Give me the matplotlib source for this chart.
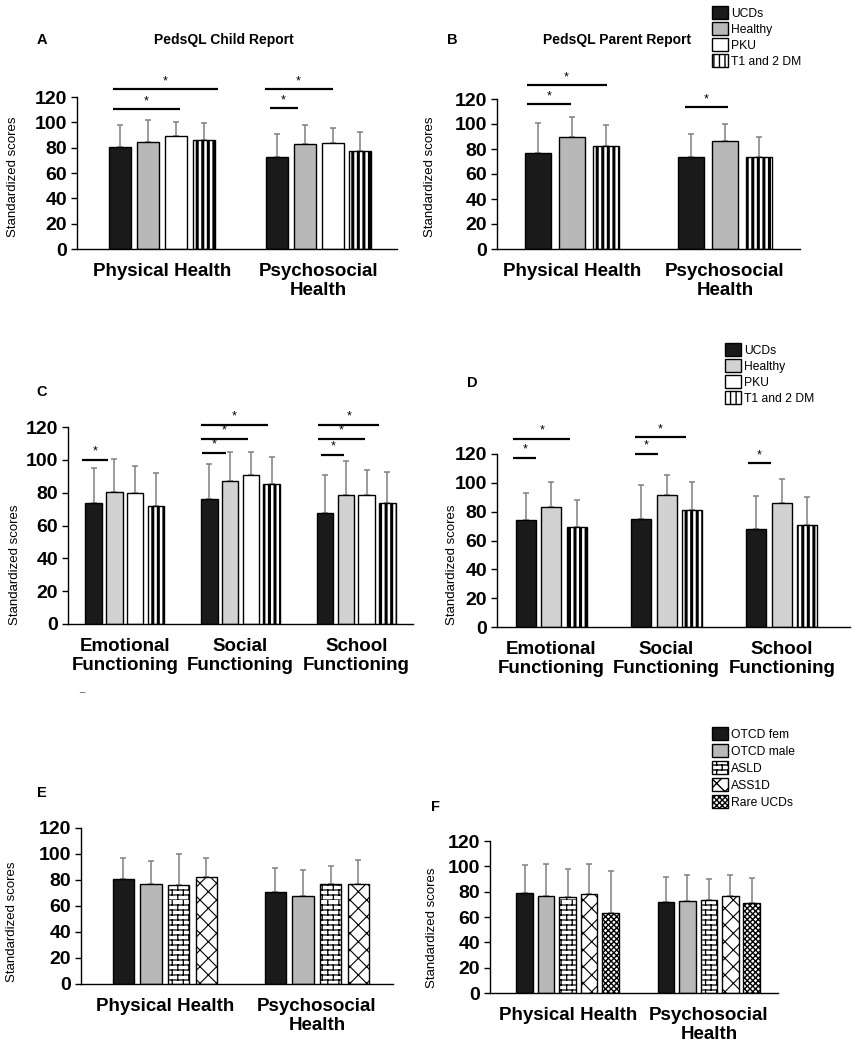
import warnings
import numpy as np
import matplotlib
matplotlib.use('Agg')
import matplotlib.pyplot as plt
import matplotlib.hatch as mhatch
from matplotlib.path import Path

warnings.filterwarnings('ignore')

plt.rcParams['font.family'] = ['Liberation Sans', 'DejaVu Sans']

# ---------------- data ----------------
groups_health = ['Physical Health', 'Psychosocial\nHealth']
groups_func = ['Emotional\nFunctioning', 'Social\nFunctioning', 'School\nFunctioning']

# A: child report (UCDs, Healthy, PKU, T1 and 2 DM)
child_mean = [[80.3, 84.7, 89.2, 86.0], [72.4, 82.6, 83.7, 77.6]]
child_sd = [[17.9, 17.4, 10.8, 13.5], [18.1, 15.6, 11.8, 14.5]]

# B: parent report (UCDs, Healthy, T1 and 2 DM)
parent_mean = [[76.6, 89.6, 82.5], [73.4, 86.8, 74.0]]
parent_sd = [[24.6, 16.2, 17.1], [18.5, 13.4, 15.5]]

# C: child report functioning
childf_mean = [[74.0, 80.6, 79.6, 72.1], [76.4, 86.9, 91.0, 85.5], [67.5, 78.4, 78.4, 74.0]]
childf_sd = [[21.1, 19.8, 16.9, 19.8], [21.1, 17.9, 13.5, 16.3], [23.2, 21.0, 15.5, 18.3]]

# D: parent report functioning
parentf_mean = [[74.3, 82.9, 69.2], [74.7, 91.7, 81.2], [67.8, 85.7, 71.0]]
parentf_sd = [[18.6, 17.4, 18.8], [23.5, 13.9, 19.1], [23.4, 17.3, 19.5]]

# E: child report by diagnosis (OTCD fem, OTCD male, ASLD, ASS1D)
diag_child_mean = [[80.8, 76.9, 76.4, 82.6], [70.8, 67.7, 76.9, 77.2]]
diag_child_sd = [[16.4, 17.5, 23.9, 14.3], [18.4, 19.7, 13.9, 18.4]]

# F: parent report by diagnosis (OTCD fem, OTCD male, ASLD, ASS1D, Rare UCDs)
diag_parent_mean = [[78.8, 76.9, 75.9, 78.5, 63.3], [71.7, 73.0, 73.5, 76.2, 70.9]]
diag_parent_sd = [[22.3, 25.3, 22.3, 23.7, 33.3], [20.2, 20.2, 16.3, 17.0, 20.0]]

labels_cohort = ['UCDs', 'Healthy', 'PKU', 'T1 and 2 DM']
labels_diag = ['OTCD fem', 'OTCD male', 'ASLD', 'ASS1D', 'Rare UCDs']

# significance lines: (group, from bar, to bar, height)
sig_a = [(0, -0.25, 3.5, 126.3), (0, -0.25, 2.14, 110.5), (1, -0.43, 2.0, 126), (1, -0.25, 0.75, 111)]
sig_b = [(0, -0.35, 2.03, 131), (0, -0.35, 0.97, 116), (1, -0.18, 1.09, 113.3)]
sig_c = [(0, -0.58, 0.68, 100.2), (1, -0.43, 2.85, 121), (1, -0.43, 1.84, 112.5), (1, -0.34, 0.78, 104.4),
         (2, -0.34, 2.61, 121.4), (2, -0.34, 1.93, 112.5), (2, -0.19, 0.92, 102.8)]
sig_d = [(0, -0.49, 1.75, 130.7), (0, -0.49, 0.41, 117.2), (1, -0.25, 1.78, 131.6), (1, -0.25, 0.65, 120),
         (2, -0.33, 0.57, 113.5)]


# brick hatch pattern ('b')
class BrickHatch(mhatch.HatchPatternBase):
    def __init__(self, hatch, density):
        n = hatch.count('b')
        self.rows = 20 * n
        self.cols = 9 * n
        self.num_vertices = (self.rows * 2 + self.rows * self.cols * 2) if n else 0

    def set_vertices_and_codes(self, vertices, codes):
        k = 0
        for r in range(self.rows):
            y = r / self.rows
            vertices[k] = (0, y); vertices[k + 1] = (1, y)
            codes[k] = Path.MOVETO; codes[k + 1] = Path.LINETO
            k += 2
            for c in range(self.cols):
                x = (c + 0.5 * (r % 2)) / self.cols
                vertices[k] = (x, y); vertices[k + 1] = (x, y + 1 / self.rows)
                codes[k] = Path.MOVETO; codes[k + 1] = Path.LINETO
                k += 2


mhatch._hatch_types.append(BrickHatch)

BLACK = '#1a1a1a'
GRAY = '#b8b8b8'
LGRAY = '#d2d2d2'
# style: (face, hatch, hatch lw)
st_cohort = [(BLACK, None, 1), (GRAY, None, 1), ('white', None, 1), ('white', '|||', 2.2)]
st_cohort_l = [(BLACK, None, 1), (LGRAY, None, 1), ('white', None, 1), ('white', '|||', 2.2)]
st_diag = [(BLACK, None, 1), (GRAY, None, 1), ('white', 'b', 0.9), ('white', 'xx', 0.8),
           ('white', 'xxxxxx', 1.0)]

W, H = 856, 1050
fig = plt.figure(figsize=(W / 100, H / 100), dpi=100)


def add_ax(x0, x1, y0, y1):
    return fig.add_axes([x0 / W, 1 - y1 / H, (x1 - x0) / W, (y1 - y0) / H])


def panel(ax, means, sds, styles, names, xlim, width, step, ylab_px, sig=None):
    means = np.array(means)
    sds = np.array(sds)
    ng, nb = means.shape
    handles = []
    for i in range(nb):
        face, hatch, hlw = styles[i]
        x = np.arange(ng) + (i - (nb - 1) / 2) * step
        with plt.rc_context({'hatch.linewidth': hlw}):
            bars = ax.bar(x, means[:, i], width, color=face, edgecolor='black', linewidth=1.0,
                          hatch=hatch, zorder=2, label=names[i])
            for b in bars:
                if hasattr(b, 'set_hatch_linewidth'):
                    b.set_hatch_linewidth(hlw)
        ax.errorbar(x, means[:, i], yerr=[np.zeros(ng), sds[:, i]], fmt='none', ecolor='#808080',
                    elinewidth=1.1, capsize=2.5, capthick=1.1, zorder=1)
        handles.append(bars)
    if sig:
        for g, a, b, y in sig:
            xa = g + (a - (nb - 1) / 2) * step
            xb = g + (b - (nb - 1) / 2) * step
            ax.plot([xa, xb], [y, y], color='black', lw=1.6, clip_on=False, solid_capstyle='butt')
            ax.text((xa + xb) / 2, y + 1.5, '*', ha='center', va='bottom', fontsize=9, clip_on=False)
    ax.set_xlim(*xlim)
    ax.set_ylim(0, 120)
    ax.set_yticks(range(0, 121, 20))
    ax.set_xticks(range(ng))
    ax.set_xticklabels(groups_health if ng == 2 else groups_func, fontsize=13.5, fontweight='bold',
                       linespacing=1.2)
    ax.tick_params(axis='x', length=0, pad=10)
    ax.tick_params(axis='y', labelsize=14, length=4, width=1, pad=3)
    for t in ax.get_yticklabels():
        t.set_fontweight('bold')
    for s in ['top', 'right']:
        ax.spines[s].set_visible(False)
    for s in ['left', 'bottom']:
        ax.spines[s].set_linewidth(1.0)
    ax.set_ylabel('Standardized scores', fontsize=9.5)
    pos = ax.get_position()
    lx = (ylab_px[0] / W - pos.x0) / pos.width
    ly = ((1 - ylab_px[1] / H) - pos.y0) / pos.height
    ax.yaxis.set_label_coords(lx, ly)
    ax.yaxis.label.set_va('center')
    return handles


axA = add_ax(77, 397, 97, 249)
hA = panel(axA, child_mean, child_sd, st_cohort, labels_cohort, (-0.54, 1.50), 0.14, 0.178, (13, 177), sig_a)
axB = add_ax(497, 800, 99, 249)
panel(axB, parent_mean, parent_sd, [st_cohort[0], st_cohort[1], st_cohort[3]],
      [labels_cohort[0], labels_cohort[1], labels_cohort[3]], (-0.49, 1.49), 0.17, 0.22, (430, 177), sig_b)
axC = add_ax(68, 413, 427, 624)
hC = panel(axC, childf_mean, childf_sd, st_cohort_l, labels_cohort, (-0.49, 2.49), 0.143, 0.179, (15, 565), sig_c)
axD = add_ax(497, 850, 454, 627)
panel(axD, parentf_mean, parentf_sd, [st_cohort_l[0], st_cohort_l[1], st_cohort_l[3]],
      [labels_cohort[0], labels_cohort[1], labels_cohort[3]], (-0.47, 2.59), 0.173, 0.221, (452, 565), sig_d)
axE = add_ax(81, 393, 828, 984)
panel(axE, diag_child_mean, diag_child_sd, st_diag[:4], labels_diag[:4], (-0.55, 1.50), 0.14, 0.182, (12, 922))
axF = add_ax(490, 778, 841, 993)
hF = panel(axF, diag_parent_mean, diag_parent_sd, st_diag, labels_diag, (-0.55, 1.49), 0.117, 0.152, (432, 928))

# titles and panel letters
fig.text(224 / W, 1 - 40 / H, 'PedsQL Child Report', ha='center', va='center', fontsize=10, fontweight='bold')
fig.text(617 / W, 1 - 40 / H, 'PedsQL Parent Report', ha='center', va='center', fontsize=10, fontweight='bold')
for letter, (px, py) in zip('ABCDEF', [(42, 40), (452, 40), (42, 392), (472, 383), (42, 793), (436, 807)]):
    fig.text(px / W, 1 - py / H, letter, ha='center', va='center', fontsize=10.5, fontweight='bold')
fig.text(82 / W, 1 - 688 / H, '_', ha='center', va='center', fontsize=7, color='#555555')

# legends
leg_kw = dict(frameon=False, fontsize=8.7, handlelength=1.3, handleheight=1.3, handletextpad=0.3,
              borderpad=0, borderaxespad=0, loc='upper left')
fig.legend(hA, labels_cohort, bbox_to_anchor=(712 / W, 1 - 6 / H), labelspacing=0.2, **leg_kw)
fig.legend(hC, labels_cohort, bbox_to_anchor=(725 / W, 1 - 343 / H), labelspacing=0.2, **leg_kw)
fig.legend(hF, labels_diag, bbox_to_anchor=(712 / W, 1 - 727 / H), labelspacing=0.28, **leg_kw)

fig.savefig('out.png', dpi=100)
